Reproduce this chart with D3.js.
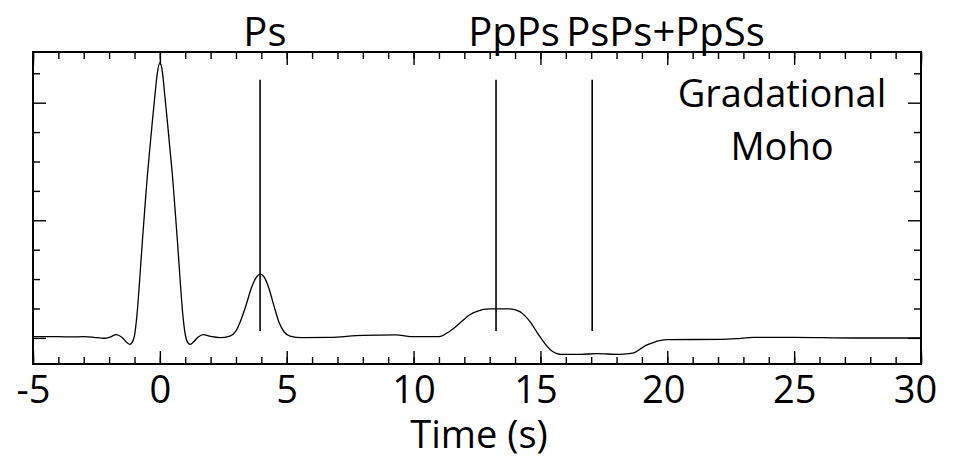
<!DOCTYPE html>
<html>
<head>
<meta charset="utf-8">
<script src="https://cdn.jsdelivr.net/npm/d3@7"></script>
<style>
  html, body { margin: 0; padding: 0; background: #fff; }
  svg { display: block; }
  text { font-family: "Open Sans", "Noto Sans", sans-serif; fill: #000; }
</style>
</head>
<body>
<svg id="chart" width="953" height="459"></svg>
<script>
// Receiver-function trace for a gradational Moho (time in seconds, amplitude)
const times = [
  -5.0, -4.0, -3.5, -3.0, -2.6, -2.2, -1.95, -1.72, -1.5, -1.3, -1.18, -1.1,
  -1.0, -0.9, -0.8, -0.7, -0.6, -0.5, -0.4, -0.3, -0.2, -0.1, 0.0,
  0.1, 0.2, 0.3, 0.4, 0.5, 0.6, 0.7, 0.8, 0.9, 1.0, 1.1, 1.19, 1.3, 1.5,
  1.71, 2.0, 2.37, 2.76, 3.0, 3.2, 3.4, 3.6, 3.8, 3.95, 4.1, 4.3, 4.5, 4.7,
  4.9, 5.13, 5.6, 6.7, 8.0, 9.3, 10.0, 11.0, 11.3, 11.6, 11.96, 12.2, 12.5,
  13.0, 13.8, 14.19, 14.4, 14.59, 14.8, 14.98, 15.2, 15.4, 15.6, 15.8, 16.6,
  17.2, 18.1, 18.5, 18.7, 19.0, 19.2, 19.5, 19.7, 20.0, 22.1, 22.7, 23.4,
  25.0, 27.3, 30.0
];
const amplitudes = [
  0.0010, 0.0010, 0.0008, 0.0010, 0.0005, -0.0003, 0.0008, 0.0027, 0.0005, -0.0040, -0.0055, -0.0040,
  0.0020, 0.0200, 0.0480, 0.0790, 0.1080, 0.1360, 0.1600, 0.1830, 0.2050, 0.2250, 0.2340,
  0.2260, 0.2050, 0.1830, 0.1600, 0.1370, 0.1090, 0.0800, 0.0490, 0.0210, 0.0030, -0.0040, -0.0055, -0.0040, 0.0005,
  0.0027, 0.0012, 0.0002, 0.0015, 0.0060, 0.0155, 0.0280, 0.0420, 0.0515, 0.0543, 0.0520, 0.0420, 0.0270, 0.0130,
  0.0050, 0.0016, 0.0003, 0.0005, 0.0022, 0.0025, 0.0010, 0.0010, 0.0039, 0.0085, 0.0152, 0.0195, 0.0226,
  0.0246, 0.0246, 0.0223, 0.0185, 0.0138, 0.0070, 0.0010, -0.0055, -0.0103, -0.0130, -0.0140, -0.0140,
  -0.0134, -0.0140, -0.0133, -0.0125, -0.0085, -0.0060, -0.0035, -0.0024, -0.0015, -0.0012, -0.0007, 0.0005,
  0.0005, -0.0001, -0.0001
];

// Predicted phase arrivals: marker times and label positions
const phaseNames = ["Ps", "PpPs", "PsPs+PpSs"];
const phaseTimes = [3.95, 13.25, 17.04];
const phaseLabelTimes = [4.14, 13.96, 19.93];
const markerTop = 0.2195;
const markerBottom = 0.0058;

// Axis ticks
const xMajorTicks = [-5, 0, 5, 10, 15, 20, 25, 30];
const xMinorTicks = d3.range(-5, 31, 1);
const yMajorTicks = [0, 0.1, 0.2];
const yMinorTicks = [0.025, 0.05, 0.075, 0.125, 0.15, 0.175, 0.225];

const xTitle = "Time (s)";
const modelLines = ["Gradational", "Moho"];

const svg = d3.select("#chart");
const plotLeft = 33, plotRight = 921, plotTop = 52, plotBottom = 364;

const x = d3.scaleLinear().domain([-5, 30]).range([plotLeft, plotRight]);
const y = d3.scaleLinear().domain([-0.0222, 0.2431]).range([plotBottom, plotTop]);

const MAJ = 13, MIN = 7;
// small horizontal nudges of individual tick labels (px)
const labelNudge = { 15: -5, 20: -4, 30: -6 };

const tickStyle = g => {
  g.select(".domain").remove();
  g.selectAll(".tick line").attr("stroke", "#000").attr("stroke-width", 1.4);
};

// bottom axis with labels
svg.append("g").attr("transform", `translate(0,${plotBottom})`)
  .call(d3.axisBottom(x).tickValues(xMinorTicks).tickSize(-MIN).tickFormat(""))
  .call(tickStyle);
svg.append("g").attr("transform", `translate(0,${plotBottom})`)
  .call(d3.axisBottom(x).tickValues(xMajorTicks).tickSize(-MAJ).tickPadding(12).tickFormat(d => String(d)))
  .call(tickStyle)
  .call(g => g.selectAll("text")
    .attr("font-size", 38)
    .attr("font-family", "Open Sans")
    .attr("dx", d => labelNudge[d] || 0));

// top axis, ticks only
svg.append("g").attr("transform", `translate(0,${plotTop})`)
  .call(d3.axisTop(x).tickValues(xMinorTicks).tickSize(-MIN).tickFormat(""))
  .call(tickStyle);
svg.append("g").attr("transform", `translate(0,${plotTop})`)
  .call(d3.axisTop(x).tickValues(xMajorTicks).tickSize(-MAJ).tickFormat(""))
  .call(tickStyle);

// left and right axes, ticks only
[[d3.axisLeft, plotLeft], [d3.axisRight, plotRight]].forEach(([axisFn, pos]) => {
  svg.append("g").attr("transform", `translate(${pos},0)`)
    .call(axisFn(y).tickValues(yMinorTicks).tickSize(-MIN).tickFormat(""))
    .call(tickStyle);
  svg.append("g").attr("transform", `translate(${pos},0)`)
    .call(axisFn(y).tickValues(yMajorTicks).tickSize(-MAJ).tickFormat(""))
    .call(tickStyle);
});

// frame
svg.append("rect")
  .attr("x", plotLeft).attr("y", plotTop)
  .attr("width", plotRight - plotLeft).attr("height", plotBottom - plotTop)
  .attr("fill", "none").attr("stroke", "#000").attr("stroke-width", 2);

// trace
const pts = times.map((t, i) => [t, amplitudes[i]]);
svg.append("path")
  .datum(pts)
  .attr("fill", "none")
  .attr("stroke", "#000")
  .attr("stroke-width", 1.3)
  .attr("d", d3.line().x(d => x(d[0])).y(d => y(d[1])).curve(d3.curveMonotoneX));

// phase markers
svg.append("g").selectAll("line")
  .data(phaseTimes)
  .join("line")
  .attr("x1", d => x(d)).attr("x2", d => x(d))
  .attr("y1", y(markerTop)).attr("y2", y(markerBottom))
  .attr("stroke", "#000").attr("stroke-width", 1.6);

svg.append("g").selectAll("text")
  .data(phaseNames)
  .join("text")
  .attr("x", (d, i) => x(phaseLabelTimes[i]))
  .attr("y", 46)
  .attr("text-anchor", "middle")
  .attr("font-size", 40)
  .text(d => d);

// model annotation
svg.append("g").selectAll("text")
  .data(modelLines)
  .join("text")
  .attr("x", 782)
  .attr("y", (d, i) => 107 + i * 53)
  .attr("text-anchor", "middle")
  .attr("font-size", 38)
  .text(d => d);

// axis title
svg.append("text")
  .attr("x", 479).attr("y", 448)
  .attr("text-anchor", "middle")
  .attr("font-size", 38)
  .text(xTitle);
</script>
</body>
</html>
